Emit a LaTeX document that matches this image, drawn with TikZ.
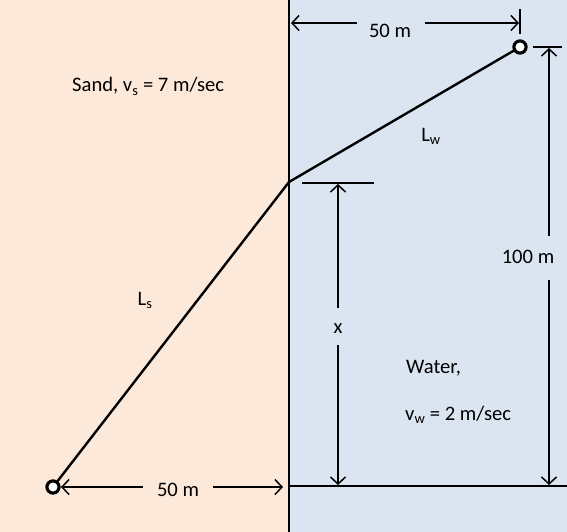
\documentclass[tikz,border=0pt]{standalone}
\usepackage{fontspec}
\setmainfont{Carlito}
\usetikzlibrary{arrows.meta}
\definecolor{sand}{HTML}{FDE9D9}
\definecolor{water}{HTML}{DBE5F1}
\tikzset{
  main/.style={line width=2.4pt, black},
  dim/.style={line width=1.5pt, black},
  dimarrow/.style={dim, -{Straight Barb[length=7pt,width=15pt,line width=1.5pt]}},
  lbl/.style={font=\fontsize{20.6}{24}\selectfont, inner sep=0pt},
  pt/.style={circle, draw=black, fill=white, line width=3pt, minimum size=12pt, inner sep=0pt},
}
\begin{document}
\begin{tikzpicture}[x=1pt,y=-1pt]
\useasboundingbox (0,0) rectangle (567,532);
\fill[sand] (0,0) rectangle (289,532);
\fill[water] (289,0) rectangle (567,532);
% divider and bottom
\coordinate (dtop) at (289,0);
\coordinate (dbot) at (289,532);
\coordinate (bl) at (289,486);
\coordinate (br) at (567,486);
\draw[main] (dtop) -- (dbot);
\draw[main] (bl) -- (br);
% path
\coordinate (C) at (289,182);
\node[pt] (A) at (53,487) {};
\node[pt] (B) at (520,47) {};
\draw[main] (A) -- (C) -- (B);
\node[pt] at (A) {};
\node[pt] at (B) {};
% top 50 m
\coordinate (t1) at (291,23);
\coordinate (t2) at (357,23);
\coordinate (t3) at (425,23);
\coordinate (t4) at (519,23);
\coordinate (tk1) at (520,9);
\coordinate (tk2) at (520,34);
\draw[dim] (tk1) -- (tk2);
\draw[dimarrow] (t2) -- (t1);
\draw[dimarrow] (t3) -- (t4);
\node[lbl] (ltop) at (390,31) {50 m};
% bottom 50 m
\coordinate (b1) at (61,487);
\coordinate (b2) at (143,487);
\coordinate (b3) at (213,487);
\coordinate (b4) at (283,487);
\draw[dimarrow] (b2) -- (b1);
\draw[dimarrow] (b3) -- (b4);
\node[lbl] (lbot) at (178,490) {50 m};
% 100 m
\coordinate (r0a) at (533,47);
\coordinate (r0b) at (562,47);
\draw[dim] (r0a) -- (r0b);
\coordinate (r1) at (549,48);
\coordinate (r2) at (549,236);
\coordinate (r3) at (549,280);
\coordinate (r4) at (549,485);
\draw[dimarrow] (r2) -- (r1);
\draw[dimarrow] (r3) -- (r4);
\node[lbl] (l100) at (528,257) {100 m};
% x
\coordinate (x0a) at (302,183);
\coordinate (x0b) at (374,183);
\draw[dim] (x0a) -- (x0b);
\coordinate (x1) at (338,184);
\coordinate (x2) at (338,308);
\coordinate (x3) at (338,345);
\coordinate (x4) at (338,485);
\draw[dimarrow] (x2) -- (x1);
\draw[dimarrow] (x3) -- (x4);
\node[lbl] (lx) at (338,329) {x};
% labels
\node[lbl, anchor=base west] (sand) at (72,92) {Sand, v\textsubscript{s} = 7 m/sec};
\node[lbl] (ls) at (145,300) {L\textsubscript{s}};
\node[lbl] (lw) at (431,136) {L\textsubscript{w}};
\node[lbl, anchor=base west] (wat) at (406,373) {Water,};
\node[lbl, anchor=base west] (vw) at (405,420) {v\textsubscript{w} = 2 m/sec};
\end{tikzpicture}
\end{document}
